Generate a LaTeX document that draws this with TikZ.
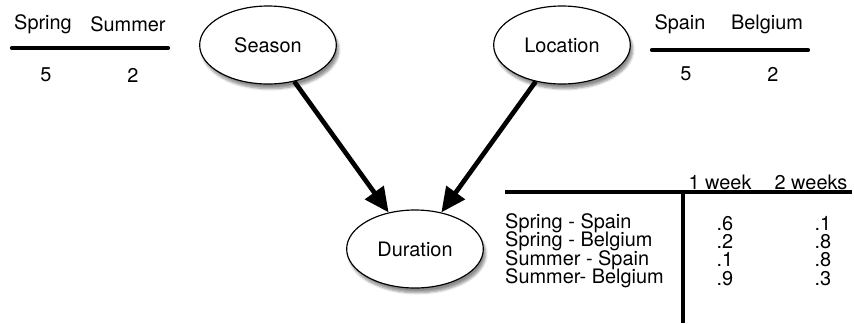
\documentclass[tikz,border=0pt]{standalone}
\usepackage{fontspec}
\setmainfont{TeX Gyre Heros}
\usetikzlibrary{arrows.meta, shapes.geometric, shadows.blur}

\tikzset{
  var/.style={ellipse, draw, line width=1pt, fill=white, minimum width=4.1cm, minimum height=2.34cm,
    blur shadow={shadow xshift=2pt, shadow yshift=-4pt, shadow blur steps=6, shadow opacity=45}},
  rule/.style={line width=3.6pt, line cap=round},
  link/.style={line width=4pt, -{Triangle[length=21pt, width=19pt]}},
  lbl/.style={inner sep=0pt}
}

\begin{document}
\begin{tikzpicture}[x=0.03cm, y=-0.03cm, font=\fontsize{17}{20}\selectfont]
  \useasboundingbox (0,0) rectangle (854,323);

  % ----- Variables -----
  \node[var] (season) at (268,45) {Season};
  \node[var] (location) at (562,45) {Location};
  \node[var] (duration) at (415,249) {Duration};

  \draw[link] (season) -- (duration);
  \draw[link] (location) -- (duration);

  % ----- Prior of Season -----
  \node[lbl] (spring) at (43,24) {Spring};
  \node[lbl] (summer) at (128,24) {Summer};
  \coordinate (sl) at (12,48);
  \coordinate (sr) at (168,48);
  \draw[rule] (sl) -- (sr);
  \node[lbl] (pspring) at (46,75) {5};
  \node[lbl] (psummer) at (133,75) {2};

  % ----- Prior of Location -----
  \node[lbl] (spain) at (680,24) {Spain};
  \node[lbl] (belgium) at (767,24) {Belgium};
  \coordinate (ll) at (652,50);
  \coordinate (lr) at (808,50);
  \draw[rule] (ll) -- (lr);
  \node[lbl] (pspain) at (686,74) {5};
  \node[lbl] (pbelgium) at (773,74) {2};

  % ----- Table of Duration -----
  \node[lbl] (wk1) at (720,182) {1 week};
  \node[lbl] (wk2) at (811,182) {2 weeks};
  \coordinate (tl) at (505,192);
  \coordinate (tr) at (852,192);
  \coordinate (vt) at (683,192);
  \coordinate (vb) at (683,323);
  \draw[line width=3.6pt] (tl) -- (tr);
  \draw[line width=3.6pt] (vt) -- (vb);

  \foreach \lab/\a/\b [count=\i] in {Spring - Spain/.6/.1, Spring - Belgium/.2/.8,
      Summer - Spain/.1/.8, Summer- Belgium/.9/.3} {
    \node[lbl, anchor=west] (row\i) at (505,205+18.3*\i) {\lab};
    \node[lbl] (one\i) at (725,205+18.3*\i) {\a};
    \node[lbl] (two\i) at (823,205+18.3*\i) {\b};
  }
\end{tikzpicture}
\end{document}
